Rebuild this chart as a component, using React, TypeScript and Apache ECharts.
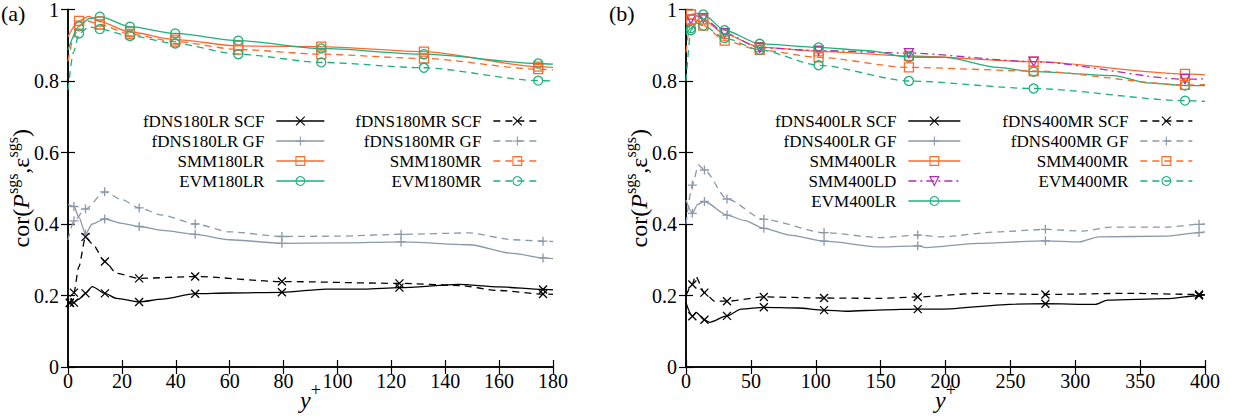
import React, { useEffect, useRef } from 'react';
import * as echarts from 'echarts';

// [y+, correlation, marker(1) or plain curve point(0)]
type P = [number, number, number];

// ---------- Panel (a): Re_tau = 180 ----------
const a_LR_SCF: P[] = [[0,0.185,0],[0.7,0.179,1],[2.2,0.18,1],[4,0.19,0],[6.5,0.206,1],[9,0.225,0],[13.7,0.206,1],[18,0.192,0],[26.4,0.182,1],[35,0.19,0],[47.2,0.205,1],[60,0.207,0],[79.4,0.209,1],[95.8,0.218,0],[110,0.218,0],[123,0.222,1],[145,0.231,0],[160,0.224,0],[176.3,0.217,1],[180,0.216,0]];
const a_MR_SCF: P[] = [[0,0.178,0],[0.7,0.18,1],[2.2,0.208,1],[4,0.28,0],[6.5,0.364,1],[9,0.345,0],[13.7,0.295,1],[18,0.262,0],[26.4,0.248,1],[47.2,0.253,1],[79.4,0.239,1],[123,0.234,1],[145,0.228,0],[160,0.214,0],[176.3,0.204,1],[180,0.203,0]];
const a_LR_GF: P[] = [[0,0.455,0],[2.2,0.449,1],[4,0.42,0],[6.5,0.372,1],[9,0.4,0],[13.6,0.414,1],[20,0.402,0],[26.4,0.393,1],[35,0.382,0],[47.2,0.371,1],[60,0.356,0],[79.4,0.346,1],[100,0.347,0],[123.6,0.35,1],[149,0.342,0],[165,0.318,0],[176.3,0.305,1],[180,0.303,0]];
const a_MR_GF: P[] = [[0,0.355,0],[2.2,0.409,1],[6.5,0.442,1],[13.6,0.49,1],[20,0.468,0],[26.4,0.445,1],[35,0.425,0],[47.2,0.4,1],[60,0.378,0],[79.4,0.365,1],[100,0.366,0],[123.6,0.371,1],[149,0.375,0],[165,0.356,0],[176.3,0.352,1],[180,0.351,0]];
const a_SMM_LR: P[] = [[0,0.924,0],[4.1,0.968,1],[7.7,0.981,0],[11.8,0.966,1],[23,0.937,1],[39.8,0.916,1],[63.2,0.898,1],[94,0.896,1],[132.1,0.882,1],[174.5,0.84,1],[180,0.838,0]];
const a_SMM_MR: P[] = [[0,0.855,0],[2,0.92,0],[4.1,0.955,1],[7,0.968,0],[11.8,0.958,1],[23,0.931,1],[39.8,0.91,1],[63.2,0.888,1],[94,0.875,1],[132.1,0.863,1],[174.5,0.833,1],[180,0.831,0]];
const a_EVM_LR: P[] = [[0,0.887,0],[4.1,0.953,1],[8,0.975,0],[11.8,0.98,1],[23,0.952,1],[39.8,0.933,1],[63.2,0.913,1],[94,0.891,1],[132.1,0.875,1],[174.5,0.849,1],[180,0.847,0]];
const a_EVM_MR: P[] = [[0,0.775,0],[2,0.88,0],[4.1,0.933,1],[8,0.952,0],[11.8,0.945,1],[23,0.926,1],[39.8,0.905,1],[63.2,0.875,1],[94,0.852,1],[132.1,0.837,1],[174.5,0.801,1],[180,0.8,0]];

// ---------- Panel (b): Re_tau = 400 ----------
const b_LR_SCF: P[] = [[0,0.179,0],[4.9,0.142,1],[7.8,0.153,0],[14.2,0.132,1],[18,0.125,0],[31.6,0.143,1],[42.6,0.162,0],[60,0.167,1],[86,0.165,0],[106.4,0.159,1],[123.8,0.156,0],[152.8,0.16,0],[178.6,0.162,1],[196,0.162,0],[254,0.176,0],[277,0.177,1],[315,0.175,0],[325,0.187,0],[370,0.191,0],[395.4,0.2,1],[400,0.202,0]];
const b_MR_SCF: P[] = [[0,0.2,0],[4.9,0.231,1],[7.2,0.255,0],[14.2,0.208,1],[22,0.184,0],[31.6,0.184,1],[60,0.196,1],[106.4,0.193,1],[150,0.192,0],[178.6,0.196,1],[225,0.206,0],[277,0.203,1],[341,0.206,0],[395.4,0.203,1],[400,0.202,0]];
const b_LR_GF: P[] = [[0,0.467,0],[4.9,0.43,1],[9,0.455,0],[14.2,0.463,1],[31.6,0.425,1],[45,0.41,0],[60,0.388,1],[80,0.369,0],[106.4,0.352,1],[150,0.336,0],[178.6,0.339,1],[185,0.334,0],[225,0.346,0],[277,0.353,1],[303,0.35,0],[318,0.364,0],[370,0.366,0],[395.4,0.376,1],[400,0.378,0]];
const b_MR_GF: P[] = [[0,0.4,0],[4.9,0.509,1],[9.6,0.565,0],[14.2,0.551,1],[31.6,0.47,1],[60,0.413,1],[106.4,0.376,1],[150,0.362,0],[178.6,0.369,1],[196,0.364,0],[240,0.378,0],[277,0.385,1],[306,0.38,0],[327,0.391,0],[370,0.391,0],[395.4,0.399,1],[400,0.4,0]];
const b_SMM_LR: P[] = [[0,0.965,0],[3.8,0.986,1],[8,0.99,0],[13.3,0.972,1],[29.8,0.931,1],[56.8,0.895,1],[102.2,0.883,1],[171.8,0.87,1],[267.9,0.854,1],[384.6,0.82,1],[400,0.817,0]];
const b_SMM_LD: P[] = [[0,0.94,0],[3.8,0.972,1],[8,0.982,0],[13.3,0.976,1],[29.8,0.934,1],[56.8,0.893,1],[102.2,0.885,1],[171.8,0.878,1],[267.9,0.854,1],[384.6,0.805,1],[400,0.806,0]];
const b_EVM_LR: P[] = [[0,0.93,0],[3.8,0.948,1],[13.3,0.986,1],[29.8,0.942,1],[56.8,0.904,1],[102.2,0.894,1],[140,0.885,0],[171.8,0.867,1],[200,0.866,0],[240,0.838,0],[267.9,0.826,1],[330,0.815,0],[355,0.795,0],[384.6,0.787,1],[400,0.787,0]];
const b_SMM_MR: P[] = [[0,0.88,0],[3.8,0.972,1],[8,0.97,0],[13.3,0.955,1],[29.8,0.913,1],[56.8,0.887,1],[102.2,0.866,1],[171.8,0.838,1],[267.9,0.828,1],[384.6,0.789,1],[400,0.79,0]];
const b_EVM_MR: P[] = [[0,0.8,0],[3.8,0.942,1],[8,0.962,0],[13.3,0.955,1],[29.8,0.92,1],[56.8,0.887,1],[102.2,0.844,1],[171.8,0.8,1],[267.9,0.779,1],[384.6,0.745,1],[400,0.743,0]];

const xA = { min: 0, max: 180, interval: 20 };
const xB = { min: 0, max: 400, interval: 50 };
const yRange = { min: 0, max: 1, interval: 0.2 };

const FONT = '"Liberation Serif", "Times New Roman", serif';
const C_BLACK = '#000000';
const C_GREY = '#8a98aa';
const C_ORANGE = '#fb6a2c';
const C_GREEN = '#1cb07c';
const C_PURPLE = '#b02cb0';

const SYM = {
  scf: { symbol: 'path://M0,0L10,10M10,0L0,10', size: 8, color: C_BLACK },
  gf: { symbol: 'path://M5,0L5,10M0,5L10,5', size: 9, color: C_GREY },
  smm: { symbol: 'rect', size: 9, color: C_ORANGE },
  evm: { symbol: 'circle', size: 9, color: C_GREEN },
  ld: { symbol: 'path://M0,0L10,0L5,8.66Z', size: 9, color: C_PURPLE },
};
const SOLID = 'solid';
const DASH = [7, 5];
const DASHDOT = [8, 4, 2, 4];

type Def = { name: string; pts: P[]; kind: keyof typeof SYM; dash: any; panel: number; col: number; row: number };

const DEFS: Def[] = [
  { name: 'fDNS180LR SCF', pts: a_LR_SCF, kind: 'scf', dash: SOLID, panel: 0, col: 0, row: 0 },
  { name: 'fDNS180LR GF', pts: a_LR_GF, kind: 'gf', dash: SOLID, panel: 0, col: 0, row: 1 },
  { name: 'SMM180LR', pts: a_SMM_LR, kind: 'smm', dash: SOLID, panel: 0, col: 0, row: 2 },
  { name: 'EVM180LR', pts: a_EVM_LR, kind: 'evm', dash: SOLID, panel: 0, col: 0, row: 3 },
  { name: 'fDNS180MR SCF', pts: a_MR_SCF, kind: 'scf', dash: DASH, panel: 0, col: 1, row: 0 },
  { name: 'fDNS180MR GF', pts: a_MR_GF, kind: 'gf', dash: DASH, panel: 0, col: 1, row: 1 },
  { name: 'SMM180MR', pts: a_SMM_MR, kind: 'smm', dash: DASH, panel: 0, col: 1, row: 2 },
  { name: 'EVM180MR', pts: a_EVM_MR, kind: 'evm', dash: DASH, panel: 0, col: 1, row: 3 },
  { name: 'fDNS400LR SCF', pts: b_LR_SCF, kind: 'scf', dash: SOLID, panel: 1, col: 0, row: 0 },
  { name: 'fDNS400LR GF', pts: b_LR_GF, kind: 'gf', dash: SOLID, panel: 1, col: 0, row: 1 },
  { name: 'SMM400LR', pts: b_SMM_LR, kind: 'smm', dash: SOLID, panel: 1, col: 0, row: 2 },
  { name: 'SMM400LD', pts: b_SMM_LD, kind: 'ld', dash: DASHDOT, panel: 1, col: 0, row: 3 },
  { name: 'EVM400LR', pts: b_EVM_LR, kind: 'evm', dash: SOLID, panel: 1, col: 0, row: 4 },
  { name: 'fDNS400MR SCF', pts: b_MR_SCF, kind: 'scf', dash: DASH, panel: 1, col: 1, row: 0 },
  { name: 'fDNS400MR GF', pts: b_MR_GF, kind: 'gf', dash: DASH, panel: 1, col: 1, row: 1 },
  { name: 'SMM400MR', pts: b_SMM_MR, kind: 'smm', dash: DASH, panel: 1, col: 1, row: 2 },
  { name: 'EVM400MR', pts: b_EVM_MR, kind: 'evm', dash: DASH, panel: 1, col: 1, row: 3 },
];

// legend icon right edges (px from left) per panel/column
const LEG_RIGHT = [[325, 542], [961, 1193]];
const LEG_W = [48, 52];
const W = 1247, H = 419;

function buildOption() {
  const grids = [
    { left: 68, right: W - 553, top: 9.5, bottom: H - 367, outerBoundsMode: 'none', containLabel: false },
    { left: 686, right: W - 1205, top: 9.5, bottom: H - 367, outerBoundsMode: 'none', containLabel: false },
  ];
  const xr = [xA, xB];
  const xAxis: any[] = [];
  const yAxis: any[] = [];
  const yName = '{n|cor(}{i|P}{s|sgs}{n|,ε}{s|sgs}{n|)}';
  const nameRich = {
    n: { fontSize: 24, fontFamily: FONT, color: '#000', lineHeight: 34 },
    i: { fontSize: 24, fontFamily: FONT, fontStyle: 'italic', color: '#000', lineHeight: 34 },
    s: { fontSize: 16, fontFamily: FONT, color: '#000', verticalAlign: 'top', lineHeight: 18 },
  };
  for (let g = 0; g < 2; g++) {
    const line = { show: true, lineStyle: { color: '#000', width: 1.5 } };
    const tick = { show: true, inside: true, length: 7, lineStyle: { color: '#000', width: 1.2 } };
    xAxis.push({
      type: 'value', gridIndex: g, position: 'bottom', ...xr[g],
      axisLine: line, axisTick: tick, splitLine: { show: false },
      axisLabel: { fontFamily: FONT, fontSize: 20, color: '#000', margin: 4 },
      name: '{i|y}{s|+}', nameLocation: 'middle', nameGap: 14, nameMoveOverlap: false,
      nameTextStyle: { rich: {
        i: { fontSize: 24, fontFamily: FONT, fontStyle: 'italic', color: '#000', lineHeight: 38 },
        s: { fontSize: 18, fontFamily: FONT, color: '#000', verticalAlign: 'top', lineHeight: 18 },
      } },
    });
    xAxis.push({
      type: 'value', gridIndex: g, position: 'top', ...xr[g],
      axisLine: line, axisTick: tick, splitLine: { show: false }, axisLabel: { show: false },
    });
    yAxis.push({
      type: 'value', gridIndex: g, position: 'left', ...yRange,
      axisLine: line, axisTick: tick, splitLine: { show: false },
      axisLabel: { fontFamily: FONT, fontSize: 20, color: '#000', margin: 9,
        formatter: (v: number) => String(Math.round(v * 10) / 10) },
      name: yName, nameLocation: 'middle', nameRotate: 90, nameGap: 30, nameMoveOverlap: false,
      nameTextStyle: { rich: nameRich },
    });
    yAxis.push({
      type: 'value', gridIndex: g, position: 'right', ...yRange,
      axisLine: line, axisTick: tick, splitLine: { show: false }, axisLabel: { show: false },
    });
  }

  const series = DEFS.map((d) => {
    const s = SYM[d.kind];
    return {
      type: 'line', name: d.name,
      xAxisIndex: d.panel * 2, yAxisIndex: d.panel * 2,
      data: d.pts.map((p) => (p[2] ? { value: [p[0], p[1]] } : { value: [p[0], p[1]], symbol: 'none' })),
      symbol: s.symbol, symbolSize: s.size, showSymbol: true, showAllSymbol: true,
      smooth: 0.25, smoothMonotone: 'x',
      lineStyle: { color: s.color, width: 1.3, type: d.dash },
      itemStyle: { color: 'none', borderColor: s.color, borderWidth: 1.3 },
      emphasis: { disabled: true }, silent: true,
    };
  });

  const legend = DEFS.map((d) => ({
    data: [d.name], selectedMode: false, orient: 'horizontal', align: 'right',
    right: W - LEG_RIGHT[d.panel][d.col], top: 118.5 + d.row * 20 - 6,
    itemWidth: LEG_W[d.panel], itemHeight: 11, padding: 0,
    itemStyle: { borderWidth: 1.1 }, lineStyle: { width: 1.3 },
    textStyle: { fontFamily: FONT, fontSize: 17, color: '#000', padding: [0, 7, 0, 0] },
  }));

  return {
    animation: false,
    backgroundColor: '#fff',
    grid: grids,
    xAxis, yAxis, series, legend,
    graphic: [
      { type: 'text', left: 1, top: 2, style: { text: '(a)', fontSize: 22, fontFamily: FONT, fill: '#000' } },
      { type: 'text', left: 609, top: 2, style: { text: '(b)', fontSize: 22, fontFamily: FONT, fill: '#000' } },
    ],
  };
}

export default function App() {
  const ref = useRef<HTMLDivElement>(null);
  useEffect(() => {
    if (!ref.current) return;
    const chart = echarts.init(ref.current, undefined, { renderer: 'svg' });
    chart.setOption(buildOption() as any);
    return () => chart.dispose();
  }, []);
  return <div ref={ref} style={{ position: 'fixed', left: 0, top: 0, width: W, height: H, background: '#fff' }} />;
}
